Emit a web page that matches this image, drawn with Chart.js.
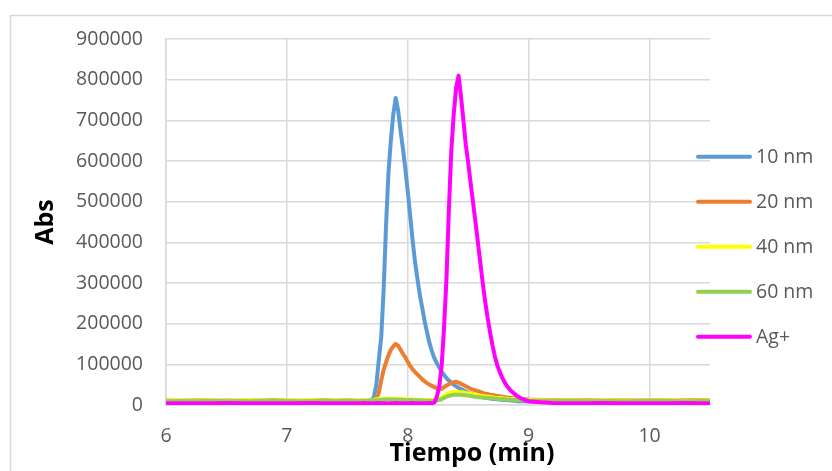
<!DOCTYPE html>
<html><head><meta charset="utf-8">
<script src="https://cdn.jsdelivr.net/npm/chart.js@4.4.1/dist/chart.umd.min.js"></script>
<style>html,body{margin:0;padding:0;background:#fff}canvas{display:block}</style>
</head><body>
<canvas id="c" width="832" height="471"></canvas>
<script>
const tiempo = [
  6.0,6.1,6.2,6.3,6.4,6.5,6.6,6.7,6.8,6.9,7.0,7.1,7.2,7.3,7.4,7.5,
  7.60,7.62,7.64,7.66,7.68,7.70,7.72,7.74,7.76,7.78,
  7.80,7.82,7.84,7.86,7.88,7.90,7.92,7.94,7.96,7.98,
  8.00,8.02,8.04,8.06,8.08,8.10,8.12,8.14,8.16,8.18,
  8.20,8.22,8.24,8.26,8.28,8.30,8.32,8.34,8.36,8.38,
  8.40,8.42,8.44,8.46,8.48,8.50,8.52,8.54,8.56,8.58,
  8.60,8.62,8.64,8.66,8.68,8.70,8.72,8.74,8.76,8.78,
  8.80,8.82,8.84,8.86,8.88,8.90,8.92,8.94,8.96,8.98,
  9.00,
  9.1,9.2,9.3,9.4,9.5,9.6,9.7,9.8,9.9,10.0,10.1,10.2,10.3,10.4,10.5
];
const serieNombres = ['10 nm','20 nm','40 nm','60 nm','Ag+'];
const abs10nm = [
  8000,8500,8000,7500,8000,8500,8000,8000,7500,8000,8500,8000,8000,8500,9000,8500,
  8000,8000,9000,9000,10000,12000,20000,50000,110000,165000,
  280000,440000,570000,650000,715000,755000,725000,675000,630000,580000,
  525000,465000,405000,352000,310000,270000,238000,205000,178000,152000,
  132000,115000,103000,92000,82000,74000,66000,60000,55000,50000,
  46000,42000,39000,36000,33000,30000,28000,26000,24000,22000,
  20000,19000,18000,17000,16000,15000,14500,14000,13500,13000,
  12500,12000,11500,11000,10500,10000,9500,9000,9000,8500,
  8500,
  8000,8000,8500,8000,7500,8000,8000,8500,8000,7500,8000,8000,8500,8000,8000
];
const abs20nm = [
  11000,10500,11000,12000,10500,11000,10500,11500,11000,12500,11000,10500,11000,12000,11000,11500,
  10000,10000,11000,10000,11000,11000,12000,15000,30000,60000,
  86000,105000,122000,136000,144000,150000,146000,136000,126000,117000,
  106000,96000,88000,81000,75000,69000,63000,58000,54000,50000,
  47000,44000,41000,39000,40000,44000,48000,51000,54000,56000,
  57000,55000,52000,49000,46000,43000,40000,38000,36000,34000,
  32000,30000,28000,27000,25500,24500,23500,22500,21500,20500,
  19500,18500,17800,17000,16500,16000,15500,15000,14500,14000,
  13500,
  12500,12000,11500,12000,11500,11000,12000,11500,11000,11500,12000,11000,11500,12000,11500
];
const abs40nm = [
  10500,11000,10500,11500,11000,10000,11000,12000,10500,11000,11500,11000,12000,11000,11500,11000,
  11000,11500,11000,12000,11500,12000,13000,14000,14500,15000,
  15500,15500,16000,15500,15000,15500,15000,14500,14500,14000,
  14000,13500,13500,13000,13000,12500,12500,12000,12000,12000,
  12000,12000,13000,15000,18500,22500,26500,29000,31000,32000,
  32500,32000,31500,30500,29500,28500,27500,26000,25000,24000,
  23000,22000,21000,20000,19500,19000,18000,17500,17000,16500,
  16000,15500,15000,14500,14000,14000,13500,13000,13000,12500,
  12000,
  11500,11000,11000,11500,10500,11000,11500,11000,10500,11000,11500,11000,10500,11000,11000
];
const abs60nm = [
  9500,10000,9500,10000,10500,9500,10000,9500,10000,10500,10000,9500,10000,10500,10000,10500,
  10000,10500,10000,10500,11000,11000,11500,12000,12500,13000,
  13000,13500,13500,13000,13500,13000,13000,12500,13000,12500,
  12500,12000,12000,11500,11500,11000,11000,11000,10500,10500,
  10500,10500,11000,12000,14500,17500,20500,22500,24000,25000,
  25500,25500,25000,24500,24000,23000,22000,21000,20000,19500,
  19000,18500,18000,17500,17000,16500,16000,15500,15000,14500,
  14000,13500,13500,13000,12500,12500,12000,12000,11500,11500,
  11000,
  10500,10000,10000,10500,9500,10000,10000,9500,10000,10000,10500,10000,9500,10000,10000
];
const absAg = [
  4500,4500,4000,4500,4500,5000,4500,4500,4000,4500,4500,4500,5000,4500,4500,4500,
  4500,4500,5000,4500,4500,4000,4500,4500,5000,4500,
  4500,4500,4000,4500,4500,5000,4500,4500,4500,4000,
  4500,4500,5000,4500,4500,4500,4000,4500,4500,5000,
  4500,6000,20000,45000,95000,190000,310000,480000,625000,715000,
  780000,810000,760000,700000,640000,595000,545000,498000,450000,400000,
  350000,300000,255000,215000,180000,148000,120000,98000,82000,68000,
  56000,47000,39000,33000,28000,23000,19000,16000,13000,11000,
  9500,
  6500,5000,4500,4500,4500,5000,4500,4500,4500,4000,4500,4500,5000,4500,4500
];
const yTicks = [0,100000,200000,300000,400000,500000,600000,700000,800000,900000];
const xTicks = [6,7,8,9,10];
const colores = ['#5b9bd5','#ed7d31','#ffff00','#92d050','#ff00ff'];
const tituloX = 'Tiempo (min)';
const tituloY = 'Abs';

const valores = [abs10nm, abs20nm, abs40nm, abs60nm, absAg];
const datasets = valores.map((arr, k) => ({
  label: serieNombres[k],
  data: tiempo.map((t, i) => ({x: t, y: arr[i]})),
  borderColor: colores[k],
  backgroundColor: colores[k],
  borderWidth: 4,
  pointRadius: 0,
  tension: 0,
  fill: false,
  borderCapStyle: 'round',
  borderJoinStyle: 'round',
  order: valores.length - k
}));

const FONT = '"Open Sans", "Liberation Sans", sans-serif';
const TXT = '#595959';
const GRID = '#d9d9d9';

const decor = {
  id: 'decor',
  beforeDraw(chart) {
    const ctx = chart.ctx;
    ctx.save();
    ctx.fillStyle = '#fff';
    ctx.fillRect(0, 0, chart.width, chart.height);
    ctx.strokeStyle = GRID;
    ctx.lineWidth = 1.5;
    ctx.strokeRect(10.5, 15.5, chart.width + 40, chart.height + 40);
    ctx.restore();
  },
  afterDraw(chart) {
    const {ctx, chartArea: a} = chart;
    ctx.save();
    ctx.font = 'bold 25px ' + FONT;
    ctx.fillStyle = '#000';
    ctx.textAlign = 'center';
    ctx.textBaseline = 'alphabetic';
    ctx.fillText(tituloX, (a.left + a.right) / 2 + 34, 461);
    ctx.font = '19.5px ' + FONT;
    chart.data.datasets.forEach((ds, i) => {
      const y = 156.7 + 45 * i;
      ctx.strokeStyle = ds.borderColor;
      ctx.lineWidth = 4;
      ctx.lineCap = 'round';
      ctx.beginPath();
      ctx.moveTo(a.right - 12, y);
      ctx.lineTo(a.right + 40, y);
      ctx.stroke();
      ctx.fillStyle = TXT;
      ctx.textAlign = 'left';
      ctx.textBaseline = 'middle';
      ctx.fillText(ds.label, a.right + 46, y + 1);
    });
    ctx.restore();
  }
};

new Chart(document.getElementById('c'), {
  type: 'line',
  data: { datasets },
  plugins: [decor],
  options: {
    responsive: false,
    animation: false,
    devicePixelRatio: 1,
    layout: { padding: { left: 0, top: 39, right: 122, bottom: 0 } },
    plugins: { legend: { display: false }, tooltip: { enabled: false } },
    scales: {
      x: {
        type: 'linear',
        min: 6, max: 10.5,
        afterFit: s => { s.height = 66; },
        afterBuildTicks: s => { s.ticks = xTicks.map(v => ({value: v})); },
        ticks: { stepSize: 1, includeBounds: false, padding: 20, color: TXT, font: { family: FONT, size: 19.5 }, maxRotation: 0 },
        grid: { color: GRID, lineWidth: 1.5, drawTicks: false },
        border: { color: GRID, width: 1.5 }
      },
      y: {
        min: 0, max: 900000,
        afterFit: s => { s.width = 166; },
        afterBuildTicks: s => { s.ticks = yTicks.map(v => ({value: v})); },
        ticks: { padding: 23, color: TXT, font: { family: FONT, size: 19.5 }, callback: v => String(v) },
        grid: { color: GRID, lineWidth: 1.5, drawTicks: false },
        border: { color: GRID, width: 1.5 },
        title: { display: true, text: tituloY, color: '#000', font: { family: FONT, size: 25, weight: 'bold' }, padding: { top: 31, bottom: 0 } }
      }
    }
  }
});
</script>
</body></html>
